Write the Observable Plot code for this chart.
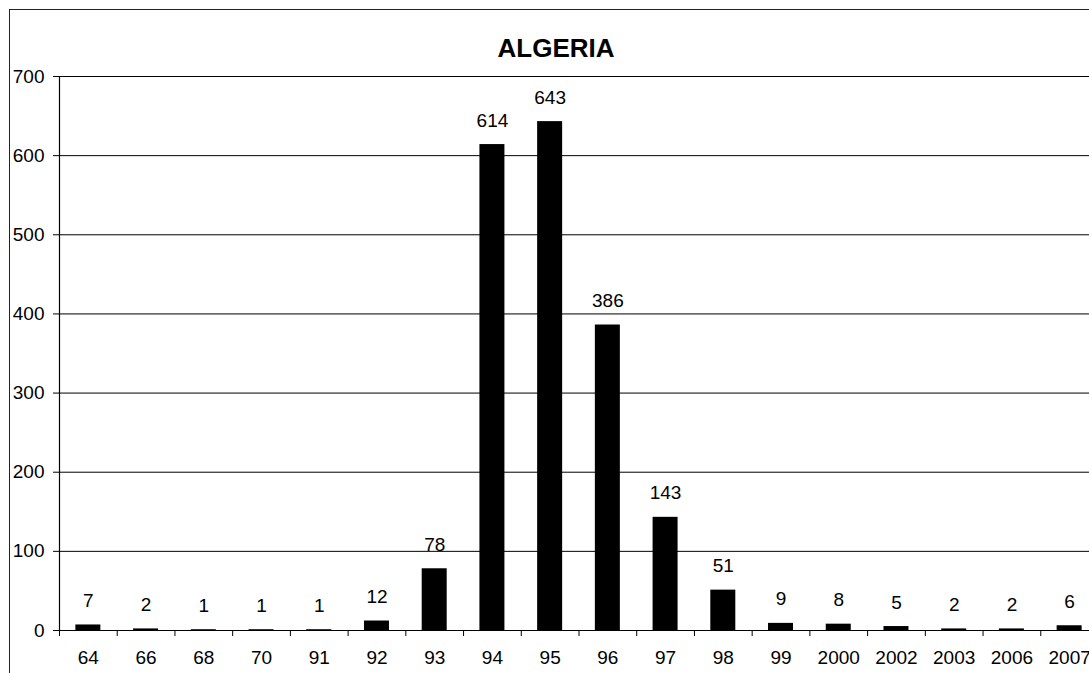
<!DOCTYPE html>
<html>
<head>
<meta charset="utf-8">
<script src="https://cdn.jsdelivr.net/npm/d3@7"></script>
<script src="https://cdn.jsdelivr.net/npm/@observablehq/plot@0.6"></script>
<style>
  html, body { margin: 0; padding: 0; overflow: hidden; background: #fff; }
  #wrap { position: relative; width: 1089px; height: 673px; overflow: hidden; font-family: Arial, "Liberation Sans", sans-serif; }
  #border { position: absolute; left: 9px; top: 9px; width: 1080px; height: 664px; border-left: 1.5px solid #222; border-top: 1.5px solid #222; box-sizing: border-box; }
  #title { position: absolute; left: 406px; width: 300px; top: 35px; text-align: center; font-weight: bold; font-size: 26px; line-height: 26px; color: #000; }
  #chart { position: absolute; left: 0; top: 0; width: 1089px; height: 673px; overflow: hidden; }
  #chart svg { overflow: hidden; }
</style>
</head>
<body>
<div id="wrap">
  <div id="border"></div>
  <div id="title">ALGERIA</div>
  <div id="chart"></div>
</div>
<script>
const years = ["64","66","68","70","91","92","93","94","95","96","97","98","99","2000","2002","2003","2006","2007"];
const counts = [7, 2, 1, 1, 1, 12, 78, 614, 643, 386, 143, 51, 9, 8, 5, 2, 2, 6];
const yTicks = [0, 100, 200, 300, 400, 500, 600, 700];

const data = years.map((y, i) => ({year: y, count: counts[i]}));

const W = 1089, H = 673, ML = 59, MR = -9, MT = 76, MB = 43;
const step = (W - ML - MR) / years.length;
const barW = 25;
const inset = (step - barW) / 2;
const FS = 19;

const chart = Plot.plot({
  width: W,
  height: H,
  marginLeft: ML,
  marginRight: MR,
  marginTop: MT,
  marginBottom: MB,
  style: {fontFamily: "Arial, 'Liberation Sans', sans-serif", background: "transparent", overflow: "hidden"},
  x: {type: "band", domain: years, padding: 0, round: false},
  y: {domain: [0, 700]},
  marks: [
    Plot.gridY(yTicks, {stroke: "#000", strokeOpacity: 1, strokeWidth: 1}),
    Plot.ruleX([years[0]], {y1: 0, y2: 700, dx: -step / 2, stroke: "#000", strokeWidth: 1.2}),
    Plot.axisY(yTicks, {tickSize: 6, tickPadding: 9, fontSize: FS, stroke: "#000", color: "#000", label: null}),
    Plot.axisX({tickSize: 6, dx: -step / 2, tickFormat: () => "", stroke: "#000", label: null}),
    Plot.axisX({tickSize: 0, tickPadding: 20, fontSize: FS, color: "#000", label: null}),
    Plot.barY(data, {x: "year", y: "count", fill: "#000", insetLeft: inset, insetRight: inset}),
    Plot.text(data, {x: "year", y: "count", text: d => String(d.count), lineAnchor: "bottom", dy: -18, fontSize: FS, fill: "#000"})
  ]
});
document.getElementById("chart").appendChild(chart);
</script>
</body>
</html>
